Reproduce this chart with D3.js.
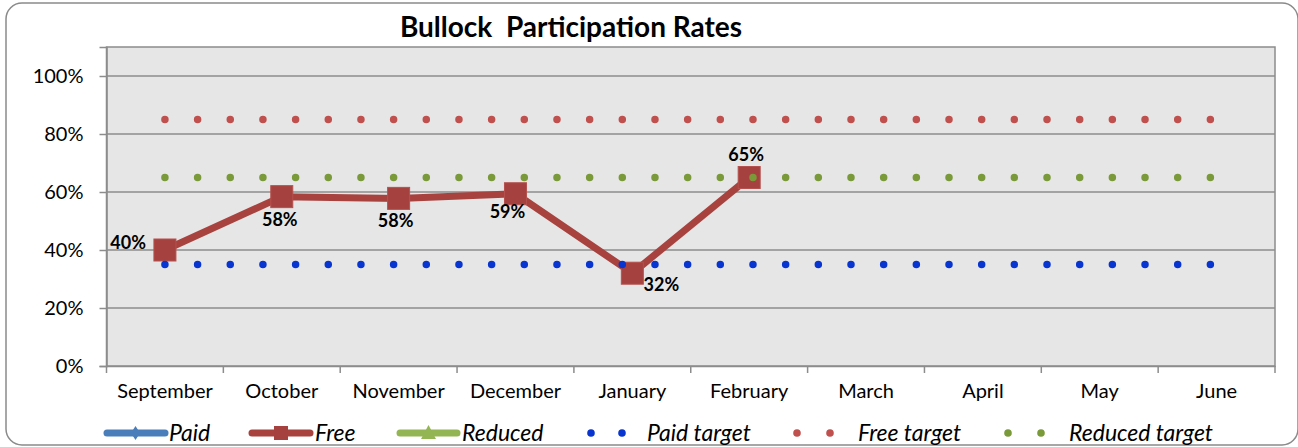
<!DOCTYPE html>
<html lang="en">
<head>
<meta charset="utf-8">
<title>Bullock Participation Rates</title>
<script src="https://cdn.jsdelivr.net/npm/d3@7"></script>
<style>
  body { margin: 0; background: #fff; }
  text { font-family: Lato, "Open Sans", sans-serif; }
</style>
</head>
<body>
<script>
// data
var months = ["September", "October", "November", "December", "January",
               "February", "March", "April", "May", "June"];
var freeRates = [0.40, 0.584, 0.578, 0.594, 0.32, 0.65];
var paidTarget = 0.35;
var freeTarget = 0.85;
var reducedTarget = 0.65;
var yTicks = [0, 0.2, 0.4, 0.6, 0.8, 1.0];

var w = 1298, h = 447;
var plotLeft = 106.5, plotRight = 1275, plotTop = 47, plotBottom = 366;

var svg = d3.select("body").append("svg")
    .attr("width", w)
    .attr("height", h);

// outer frame
svg.append("rect")
    .attr("x", 6).attr("y", 3)
    .attr("width", 1292).attr("height", 442)
    .attr("rx", 16)
    .attr("fill", "#fff")
    .attr("stroke", "#8a8a8a")
    .attr("stroke-width", 1.5);

svg.append("text")
    .attr("x", 571).attr("y", 37)
    .attr("text-anchor", "middle")
    .style("font-weight", "bold")
    .style("font-size", "28px")
    .style("white-space", "pre")
    .attr("xml:space", "preserve")
    .text("Bullock  Participation Rates");

var x = d3.scaleBand().domain(months).range([plotLeft, plotRight]).padding(0);
var y = d3.scaleLinear().domain([0, 1.1]).range([plotBottom, plotTop]);
var cx = function(m) { return x(m) + x.bandwidth() / 2; };

// plot area
svg.append("rect")
    .attr("x", plotLeft).attr("y", plotTop)
    .attr("width", plotRight - plotLeft).attr("height", plotBottom - plotTop)
    .attr("fill", "#e6e6e6")
    .attr("stroke", "#8c8c8c")
    .attr("stroke-width", 1.5);

// gridlines
svg.append("g").selectAll("line")
    .data(yTicks.slice(1))
    .enter().append("line")
    .attr("x1", plotLeft).attr("x2", plotRight)
    .attr("y1", function(d) { return y(d); })
    .attr("y2", function(d) { return y(d); })
    .attr("stroke", "#8c8c8c")
    .attr("stroke-width", 1.5);

// y axis
var yAxis = svg.append("g")
    .attr("transform", "translate(" + plotLeft + ",0)")
    .call(d3.axisLeft(y).tickValues(yTicks).tickFormat(d3.format(".0%")).tickSize(7).tickPadding(16));
yAxis.select(".domain").attr("stroke", "#8c8c8c").attr("stroke-width", 1.5);
yAxis.selectAll(".tick line").attr("stroke", "#8c8c8c").attr("stroke-width", 1.5);
yAxis.selectAll("text").style("font-size", "20px").attr("fill", "#000").attr("font-family", null);

// x axis
var xAxis = svg.append("g")
    .attr("transform", "translate(0," + plotBottom + ")")
    .call(d3.axisBottom(x).tickSize(0).tickPadding(18));
xAxis.select(".domain").attr("stroke", "#8c8c8c").attr("stroke-width", 1.5);
xAxis.selectAll("text").style("font-size", "20px").attr("fill", "#000").attr("font-family", null);
// tick marks on category boundaries
svg.append("g").selectAll("line")
    .data(months.map(function(m) { return x(m); }).concat([plotRight]))
    .enter().append("line")
    .attr("x1", function(d) { return d; }).attr("x2", function(d) { return d; })
    .attr("y1", plotBottom).attr("y2", plotBottom + 7)
    .attr("stroke", "#8c8c8c")
    .attr("stroke-width", 1.5);

var line = d3.line()
    .x(function(d) { return cx(d.m); })
    .y(function(d) { return y(d.v); });

// free series
var freeData = freeRates.map(function(v, i) { return {m: months[i], v: v}; });
svg.append("path")
    .datum(freeData)
    .attr("d", line)
    .attr("fill", "none")
    .attr("stroke", "#a8423f")
    .attr("stroke-width", 7)
    .attr("stroke-linejoin", "round");

svg.append("g").selectAll("rect")
    .data(freeData)
    .enter().append("rect")
    .attr("x", function(d) { return cx(d.m) - 11; })
    .attr("y", function(d) { return y(d.v) - 11; })
    .attr("width", 22).attr("height", 22)
    .attr("fill", "#a5413e")
    .attr("stroke", "#b5514e")
    .attr("stroke-width", 1);

// target dotted lines
var targets = [
  {v: paidTarget, color: "#0835d0"},
  {v: freeTarget, color: "#c0504d"},
  {v: reducedTarget, color: "#7a9a3a"}
];
targets.forEach(function(t) {
  svg.append("path")
      .datum(months.map(function(m) { return {m: m, v: t.v}; }))
      .attr("d", line)
      .attr("fill", "none")
      .attr("stroke", t.color)
      .attr("stroke-width", 7.5)
      .attr("stroke-linecap", "round")
      .attr("stroke-dasharray", "0 32.67");
});

// data labels
var labelOffsets = [[-19, -1, "end"], [-2, 29, "middle"], [-3, 29, "middle"],
                    [-8, 24, "middle"], [29, 18, "middle"], [-3, -17, "middle"]];
svg.append("g").selectAll("text")
    .data(freeData)
    .enter().append("text")
    .attr("x", function(d, i) { return cx(d.m) + labelOffsets[i][0]; })
    .attr("y", function(d, i) { return y(d.v) + labelOffsets[i][1]; })
    .attr("text-anchor", function(d, i) { return labelOffsets[i][2]; })
    .style("font-weight", "bold")
    .style("font-size", "18px")
    .text(function(d) { return d3.format(".0%")(d.v); });

// legend
var ly = 433;
var legend = svg.append("g");
function legLine(x0, x1, color) {
  legend.append("line")
      .attr("x1", x0).attr("x2", x1).attr("y1", ly).attr("y2", ly)
      .attr("stroke", color).attr("stroke-width", 7).attr("stroke-linecap", "round");
}
function legText(x0, s) {
  legend.append("text")
      .attr("x", x0).attr("y", ly + 8)
      .style("font-style", "italic")
      .style("font-size", "23px")
      .text(s);
}
legLine(107, 165, "#4a7ebb");
legend.append("path")
    .attr("d", "M135.5," + (ly - 7) + "L140," + ly + "L135.5," + (ly + 7) + "L131," + ly + "Z")
    .attr("fill", "#4a7ebb");
legText(169, "Paid");

legLine(252, 310, "#a8423f");
legend.append("rect").attr("x", 274).attr("y", ly - 7).attr("width", 14).attr("height", 14)
    .attr("fill", "#a5413e");
legText(315, "Free");

legLine(400, 457, "#93b553");
legend.append("path")
    .attr("d", "M428.5," + (ly - 8) + "L436," + (ly + 6) + "L421," + (ly + 6) + "Z")
    .attr("fill", "#93b553");
legText(462, "Reduced");

var legDots = [[591, 622, "#0835d0", "Paid target", 647],
               [797, 830, "#c0504d", "Free target", 858],
               [1008, 1041, "#7a9a3a", "Reduced target", 1069]];
legDots.forEach(function(d) {
  [d[0], d[1]].forEach(function(px) {
    legend.append("circle").attr("cx", px).attr("cy", ly).attr("r", 3.8).attr("fill", d[2]);
  });
  legText(d[4], d[3]);
});
</script>
</body>
</html>
